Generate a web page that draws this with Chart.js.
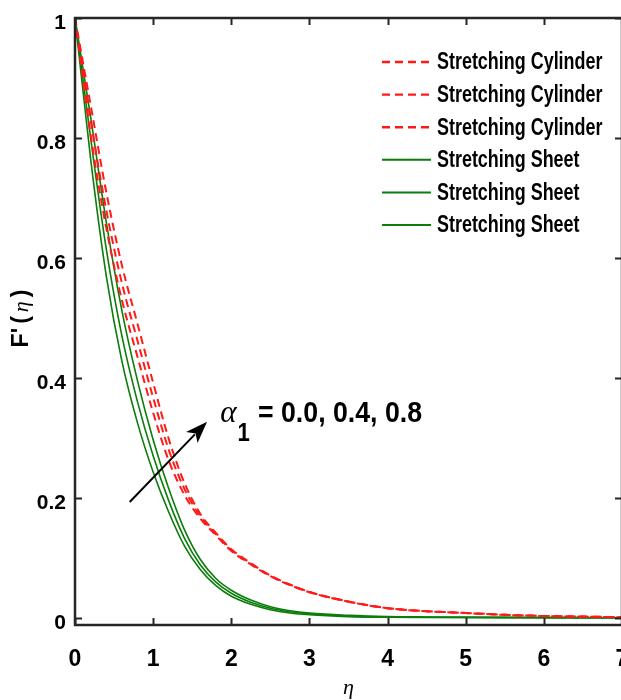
<!DOCTYPE html>
<html>
<head>
<meta charset="utf-8">
<script src="https://cdn.jsdelivr.net/npm/chart.js@4.4.1/dist/chart.umd.min.js"></script>
<style>
html,body{margin:0;padding:0;overflow:hidden;background:#fff;}
#wrap{width:640px;height:700px;}
</style>
</head>
<body>
<div id="wrap"><canvas id="c" width="640" height="700"></canvas></div>
<script>
// ---- data ----
const eta = [0,0.2,0.4,0.6,0.8,1.0,1.2,1.4,1.6,1.8,2.0,2.25,2.5,2.75,3.0,3.5,4.0,4.5,5.0,5.5,6.0,6.5,7.0];
const cylinderA00 = [1,0.805,0.65,0.53,0.435,0.342,0.262,0.205,0.166,0.138,0.1115,0.089,0.0693,0.0545,0.0427,0.0268,0.0159,0.0109,0.0079,0.0049,0.0029,0.0019,0.0009];
const cylinderA04 = [1,0.83,0.68,0.558,0.462,0.367,0.28,0.215,0.17,0.14,0.113,0.09,0.07,0.055,0.043,0.027,0.016,0.011,0.008,0.005,0.003,0.002,0.001];
const cylinderA08 = [1,0.855,0.71,0.588,0.49,0.392,0.298,0.225,0.174,0.142,0.1145,0.091,0.0707,0.0555,0.0433,0.0272,0.0161,0.0111,0.0081,0.0051,0.0031,0.0021,0.0011];
const sheetA00 = [1,0.765,0.57,0.428,0.325,0.243,0.176,0.12,0.081,0.054,0.036,0.0225,0.0135,0.008,0.005,0.002,0.001,0.0006,0.0004,0.0003,0.0002,0.0001,0.0];
const sheetA04 = [1,0.80,0.615,0.47,0.36,0.27,0.195,0.133,0.089,0.06,0.041,0.026,0.016,0.010,0.0065,0.003,0.0015,0.001,0.0007,0.0005,0.0003,0.0002,0.0001];
const sheetA08 = [1,0.835,0.66,0.512,0.395,0.297,0.215,0.147,0.098,0.066,0.046,0.0295,0.0185,0.0118,0.0078,0.004,0.002,0.0014,0.001,0.0007,0.0004,0.0003,0.0002];
const xTicks = [0,1,2,3,4,5,6,7];
const yTicks = [0,0.2,0.4,0.6,0.8,1];
const labelCylinder = 'Stretching Cylinder';
const labelSheet = 'Stretching Sheet';
const annotationText = '= 0.0, 0.4, 0.8';

const SANS = "'Liberation Sans',Arial,sans-serif";
const SERIF = "'Liberation Serif','Times New Roman',serif";
const RED = '#ff1a1a';
const GREEN = '#0a7d0a';

function pts(ys){ return eta.map((x,i)=>({x:x,y:ys[i]})); }
function cyl(ys){ return {label:labelCylinder,data:pts(ys),borderColor:RED,borderWidth:2,borderDash:[8,5],pointRadius:0,fill:false,cubicInterpolationMode:'monotone'}; }
function sht(ys){ return {label:labelSheet,data:pts(ys),borderColor:GREEN,borderWidth:1.6,pointRadius:0,fill:false,cubicInterpolationMode:'monotone'}; }

function narrowText(ctx, text, x, y, sx){
  ctx.save(); ctx.translate(x,y); ctx.scale(sx,1); ctx.fillText(text,0,0); ctx.restore();
  return ctx.measureText(text).width*sx;
}

const framePlugin = {
  id:'frame',
  afterDraw(chart){
    const ctx = chart.ctx, a = chart.chartArea, xs = chart.scales.x, ys = chart.scales.y;
    ctx.save();
    // box
    ctx.strokeStyle = '#262626';
    ctx.lineWidth = 2.5;
    ctx.strokeRect(a.left, a.top, a.right-a.left, a.bottom-a.top);
    // inward ticks
    ctx.lineWidth = 2;
    const L = 7;
    ctx.beginPath();
    xTicks.forEach(v=>{
      const p = Math.round(xs.getPixelForValue(v))+0.5;
      ctx.moveTo(p,a.bottom); ctx.lineTo(p,a.bottom-L);
      ctx.moveTo(p,a.top); ctx.lineTo(p,a.top+L);
    });
    yTicks.forEach(v=>{
      const p = Math.round(ys.getPixelForValue(v))+0.5;
      ctx.moveTo(a.left,p); ctx.lineTo(a.left+L,p);
      ctx.moveTo(a.right,p); ctx.lineTo(a.right-L,p);
    });
    ctx.stroke();

    // x title
    ctx.fillStyle = '#000';
    ctx.textAlign = 'center'; ctx.textBaseline = 'middle';
    ctx.font = 'italic 22px ' + SERIF;
    ctx.fillText('\u03b7', (a.left+a.right)/2, 688);

    // y title (rotated)
    ctx.save();
    ctx.translate(22, (a.top+a.bottom)/2 - 3);
    ctx.rotate(-Math.PI/2);
    ctx.textBaseline = 'middle'; ctx.textAlign = 'left';
    const parts = [["F'", 'bold 23px '+SANS, 4],['(', 'bold 23px '+SANS, 4],['\u03b7','italic 22px '+SERIF, 4],[')','bold 23px '+SANS, 0]];
    let tw = 0;
    parts.forEach(p=>{ctx.font=p[1]; tw += ctx.measureText(p[0]).width + p[2];});
    let cx = -tw/2;
    parts.forEach(p=>{ctx.font=p[1]; ctx.fillText(p[0],cx,0); cx += ctx.measureText(p[0]).width + p[2];});
    ctx.restore();

    // arrow annotation
    const x0 = xs.getPixelForValue(0.70), y0 = ys.getPixelForValue(0.193);
    const x1 = xs.getPixelForValue(1.69), y1 = ys.getPixelForValue(0.327);
    const ang = Math.atan2(y1-y0, x1-x0);
    const hl = 22, hw = 8;
    ctx.strokeStyle = '#000'; ctx.fillStyle = '#000'; ctx.lineWidth = 2;
    ctx.beginPath(); ctx.moveTo(x0,y0);
    ctx.lineTo(x1 - Math.cos(ang)*hl*0.8, y1 - Math.sin(ang)*hl*0.8); ctx.stroke();
    ctx.beginPath();
    ctx.moveTo(x1,y1);
    ctx.lineTo(x1 - Math.cos(ang)*hl - Math.sin(ang)*hw, y1 - Math.sin(ang)*hl + Math.cos(ang)*hw);
    ctx.lineTo(x1 - Math.cos(ang)*hl*0.75, y1 - Math.sin(ang)*hl*0.75);
    ctx.lineTo(x1 - Math.cos(ang)*hl + Math.sin(ang)*hw, y1 - Math.sin(ang)*hl - Math.cos(ang)*hw);
    ctx.closePath(); ctx.fill();

    // annotation text
    const tx = xs.getPixelForValue(1.86), ty = ys.getPixelForValue(0.327);
    ctx.textAlign = 'left'; ctx.textBaseline = 'alphabetic';
    ctx.font = 'italic 31px ' + SERIF;
    ctx.fillText('\u03b1', tx, ty);
    const aw = ctx.measureText('\u03b1').width;
    ctx.font = 'bold 26px ' + SANS;
    narrowText(ctx, '1', tx+aw+1, ty+19, 0.85);
    ctx.font = 'bold 30px ' + SANS;
    narrowText(ctx, annotationText, 258, ty, 0.89);

    // legend
    ctx.textBaseline = 'middle';
    chart.data.datasets.forEach((ds,i)=>{
      const yy = 62 + i*32.6;
      ctx.save();
      ctx.strokeStyle = ds.borderColor; ctx.lineWidth = ds.borderWidth + 0.4;
      ctx.setLineDash(ds.borderDash || []);
      ctx.beginPath(); ctx.moveTo(382,yy); ctx.lineTo(431,yy); ctx.stroke();
      ctx.restore();
      ctx.fillStyle = '#000';
      ctx.font = 'bold 23px ' + SANS;
      narrowText(ctx, ds.label, 437, yy+1, 0.78);
    });
    ctx.restore();
  }
};

new Chart(document.getElementById('c'), {
  type:'line',
  data:{datasets:[cyl(cylinderA00),cyl(cylinderA04),cyl(cylinderA08),sht(sheetA00),sht(sheetA04),sht(sheetA08)]},
  options:{
    responsive:false, animation:false, devicePixelRatio:1,
    layout:{padding:{top:18,right:18,left:0,bottom:0}},
    plugins:{legend:{display:false},tooltip:{enabled:false}},
    scales:{
      x:{type:'linear',min:0,max:7,
         afterBuildTicks:s=>{s.ticks = xTicks.map(v=>({value:v}));},
         afterFit:s=>{s.height = 75; s.paddingLeft = 0; s.paddingRight = 0;},
         grid:{display:false,drawTicks:false},border:{display:false},
         ticks:{padding:21,color:'#000',font:{family:SANS,size:23,weight:'bold'},maxRotation:0,callback:v=>String(v)}},
      y:{type:'linear',min:-0.012,max:1,
         afterBuildTicks:s=>{s.ticks = yTicks.map(v=>({value:v}));},
         afterFit:s=>{s.width = 75; s.paddingTop = 0; s.paddingBottom = 0;},
         grid:{display:false,drawTicks:false},border:{display:false},
         ticks:{padding:9,labelOffset:5,color:'#000',font:{family:SANS,size:21,weight:'bold'},callback:v=>String(Math.round(v*10)/10)}}
    }
  },
  plugins:[framePlugin]
});
</script>
</body>
</html>
